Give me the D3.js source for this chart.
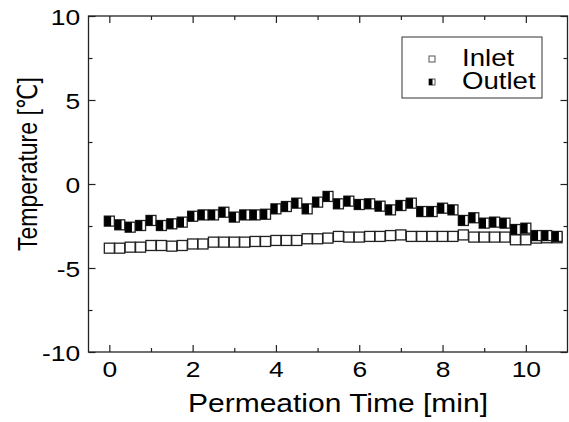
<!DOCTYPE html>
<html><head><meta charset="utf-8">
<script src="https://cdn.jsdelivr.net/npm/d3@7"></script>
<style>html,body{margin:0;padding:0;background:#fff;} svg{display:block;}</style>
</head><body><svg id="c" width="569" height="422"></svg>
<script>
const times = [0,0.25,0.5,0.75,1,1.25,1.5,1.75,2,2.25,2.5,2.75,3,3.25,3.5,3.75,4,4.25,4.5,4.75,5,5.25,5.5,5.75,6,6.25,6.5,6.75,7,7.25,7.5,7.75,8,8.25,8.5,8.75,9,9.25,9.5,9.75,10,10.25,10.5,10.75];
const inletTemp = [-3.82,-3.82,-3.76,-3.76,-3.66,-3.66,-3.70,-3.66,-3.57,-3.57,-3.46,-3.46,-3.46,-3.46,-3.42,-3.42,-3.36,-3.36,-3.36,-3.26,-3.26,-3.22,-3.12,-3.16,-3.16,-3.12,-3.12,-3.07,-3.03,-3.12,-3.12,-3.12,-3.12,-3.12,-3.03,-3.16,-3.16,-3.16,-3.16,-3.32,-3.32,-3.22,-3.20,-3.20];
const outletTemp = [-2.21,-2.43,-2.57,-2.47,-2.17,-2.47,-2.37,-2.27,-1.92,-1.84,-1.84,-1.68,-1.97,-1.84,-1.84,-1.80,-1.48,-1.34,-1.14,-1.48,-1.08,-0.74,-1.18,-1.02,-1.22,-1.18,-1.32,-1.54,-1.28,-1.14,-1.64,-1.64,-1.44,-1.54,-2.17,-2.01,-2.33,-2.27,-2.33,-2.71,-2.63,-3.07,-3.07,-3.12];
const seriesNames = ["Inlet","Outlet"];
const xMajorTicks = [0,2,4,6,8,10];
const xMinorTicks = [1,3,5,7,9];
const yMajorTicks = [-10,-5,0,5,10];
const yMinorTicks = [-7.5,-2.5,2.5,7.5];
const xTitle = "Permeation Time [min]";
const yTitle = "Temperature [\u2103]";

const FONT = '"Liberation Sans", Arial, "DejaVu Sans", sans-serif';
const SX = 1.2; // horizontal stretch of the source image
const svg = d3.select("#c");
const L = 88.5, R = 567.5, T = 16, B = 352;
const x = d3.scaleLinear().domain([-0.5, 11]).range([L, R]);
const y = d3.scaleLinear().domain([-10, 10]).range([B, T]);
const AX = "#222";
const fmt = d => String(d);

function styleAxis(g){
  g.select(".domain").remove();
  g.selectAll("line").attr("stroke", AX).attr("stroke-width", 1.2);
}

// bottom axis with labels
const gB = svg.append("g").attr("transform", `translate(0,${B})`)
  .call(d3.axisBottom(x).tickValues(xMajorTicks).tickSize(-7).tickPadding(9).tickFormat(fmt));
styleAxis(gB);
gB.selectAll("text").attr("font-family", FONT).attr("font-size", 22).attr("fill", "#000")
  .attr("transform", `scale(${SX},1)`);
svg.append("g").attr("transform", `translate(0,${B})`)
  .call(d3.axisBottom(x).tickValues(xMinorTicks).tickSize(-4).tickFormat("")).call(styleAxis);
// top mirror
svg.append("g").attr("transform", `translate(0,${T})`)
  .call(d3.axisTop(x).tickValues(xMajorTicks).tickSize(-7).tickFormat("")).call(styleAxis);
svg.append("g").attr("transform", `translate(0,${T})`)
  .call(d3.axisTop(x).tickValues(xMinorTicks).tickSize(-4).tickFormat("")).call(styleAxis);

// left axis with labels
const gL = svg.append("g").attr("transform", `translate(${L},0)`)
  .call(d3.axisLeft(y).tickValues(yMajorTicks).tickSize(-7).tickPadding(7).tickFormat(fmt));
styleAxis(gL);
gL.selectAll("text").attr("font-family", FONT).attr("font-size", 22).attr("fill", "#000")
  .attr("dy", "0.38em").attr("transform", `scale(${SX},1)`);
svg.append("g").attr("transform", `translate(${L},0)`)
  .call(d3.axisLeft(y).tickValues(yMinorTicks).tickSize(-4).tickFormat("")).call(styleAxis);
// right mirror
svg.append("g").attr("transform", `translate(${R},0)`)
  .call(d3.axisRight(y).tickValues(yMajorTicks).tickSize(-7).tickFormat("")).call(styleAxis);
svg.append("g").attr("transform", `translate(${R},0)`)
  .call(d3.axisRight(y).tickValues(yMinorTicks).tickSize(-4).tickFormat("")).call(styleAxis);

// frame
svg.append("rect").attr("x", L).attr("y", T).attr("width", R - L).attr("height", B - T)
  .attr("fill", "none").attr("stroke", AX).attr("stroke-width", 1.3);

// axis titles
svg.append("text").attr("transform", `translate(338,412) scale(${SX},1)`)
  .attr("text-anchor", "middle").attr("font-family", FONT).attr("font-size", 25).text(xTitle);
svg.append("text").attr("transform", `translate(37,164) scale(${SX},1) rotate(-90)`)
  .attr("text-anchor", "middle").attr("font-family", FONT).attr("font-size", 23).text(yTitle);

// markers
const S = 10;
const data = times.map((t, i) => ({t, inlet: inletTemp[i], outlet: outletTemp[i]}));
const gIn = svg.append("g");
gIn.selectAll("rect").data(data).join("rect")
  .attr("x", d => x(d.t) - S / 2).attr("y", d => y(d.inlet) - S / 2)
  .attr("width", S).attr("height", S)
  .attr("fill", "#fff").attr("stroke", AX).attr("stroke-width", 1.3);

function outletMarker(g, cx, cy, s, sw){
  g.append("rect").attr("x", cx - s / 2).attr("y", cy - s / 2).attr("width", s).attr("height", s)
    .attr("fill", "#fff").attr("stroke", AX).attr("stroke-width", sw);
  g.append("rect").attr("x", cx - s / 2).attr("y", cy - s / 2).attr("width", s * 0.68).attr("height", s)
    .attr("fill", "#000");
}
const gOut = svg.append("g");
data.forEach(d => outletMarker(gOut.append("g"), x(d.t), y(d.outlet), S, 1.3));

// legend
const lg = svg.append("g");
lg.append("rect").attr("x", 402).attr("y", 37).attr("width", 140).attr("height", 61)
  .attr("fill", "#fff").attr("stroke", "#333").attr("stroke-width", 1);
lg.append("rect").attr("x", 429).attr("y", 56).attr("width", 6).attr("height", 6)
  .attr("fill", "#fff").attr("stroke", "#555").attr("stroke-width", 1);
const lo = lg.append("g");
lo.append("rect").attr("x", 429).attr("y", 79).attr("width", 6).attr("height", 6)
  .attr("fill", "#fff").attr("stroke", "#555").attr("stroke-width", 1);
lo.append("rect").attr("x", 429).attr("y", 79).attr("width", 3.5).attr("height", 6).attr("fill", "#000");
lg.selectAll("text.lab").data(seriesNames).join("text").attr("class", "lab")
  .attr("transform", (d, i) => `translate(462,${66 + i * 23}) scale(${SX},1)`)
  .attr("font-family", FONT).attr("font-size", 23).text(d => d);
</script></body></html>
